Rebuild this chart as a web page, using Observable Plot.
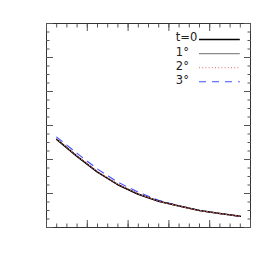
<!DOCTYPE html>
<html>
<head>
<meta charset="utf-8">
<script src="https://cdn.jsdelivr.net/npm/d3@7"></script>
<script src="https://cdn.jsdelivr.net/npm/@observablehq/plot@0.6"></script>
<style>
  html, body { margin: 0; padding: 0; background: #fff; }
  #chart { width: 273px; height: 273px; }
</style>
</head>
<body>
<div id="chart"></div>
<script>
// x positions of the samples
const xs = [0.25, 0.75, 1.25, 1.75, 2.25, 2.75, 3.25, 3.75, 4.25, 4.75];
// series values
const t0   = [2.59, 2.09, 1.63, 1.26, 0.98, 0.77, 0.63, 0.50, 0.41, 0.33];
const deg1 = [2.60, 2.09, 1.63, 1.26, 0.98, 0.77, 0.63, 0.50, 0.41, 0.33];
const deg2 = [2.60, 2.10, 1.64, 1.27, 0.99, 0.77, 0.63, 0.50, 0.41, 0.33];
const deg3 = [2.66, 2.18, 1.72, 1.33, 1.04, 0.80, 0.64, 0.50, 0.41, 0.32];
// legend labels
const labels = ["t=0", "1°", "2°", "3°"];

const seriesValues = [t0, deg1, deg2, deg3];
const styles = [
  {stroke: "#000000", strokeWidth: 1.6, strokeDasharray: null},
  {stroke: "#8a8a8a", strokeWidth: 1.2, strokeDasharray: null},
  {stroke: "#e06a6a", strokeWidth: 1, strokeDasharray: "1,2.2"},
  {stroke: "#3f50ff", strokeWidth: 1.1, strokeDasharray: "7,6"}
];
// drawing order: blue under, then grey, black, red dotted on top
const order = [3, 1, 0, 2];

const xDomain = [0, 5];
const yDomain = [0, 6];
const xMinor = d3.range(0, 5.001, 0.25);
const xMajor = d3.range(0, 5.001, 1);
const yMinor = d3.range(0, 6.001, 0.25);
const yMajor = d3.range(0, 6.001, 1);

const marks = [Plot.frame({stroke: "#333", strokeWidth: 1})];
const blank = () => "";
// inward ticks on all four sides
for (const anchor of ["bottom", "top"]) {
  marks.push(Plot.axisX({anchor, ticks: xMinor, tickSize: -3.5, tickFormat: blank, label: null, stroke: "#555"}));
  marks.push(Plot.axisX({anchor, ticks: xMajor, tickSize: -7, tickFormat: blank, label: null, stroke: "#555"}));
}
for (const anchor of ["left", "right"]) {
  marks.push(Plot.axisY({anchor, ticks: yMinor, tickSize: -3.5, tickFormat: blank, label: null, stroke: "#555"}));
  marks.push(Plot.axisY({anchor, ticks: yMajor, tickSize: -7, tickFormat: blank, label: null, stroke: "#555"}));
}

for (const i of order) {
  const data = xs.map((x, j) => ({x, y: seriesValues[i][j]}));
  const s = styles[i];
  marks.push(Plot.line(data, {x: "x", y: "y", stroke: s.stroke, strokeWidth: s.strokeWidth,
    strokeDasharray: s.strokeDasharray, curve: "linear"}));
}

// legend (in data units)
const legY0 = 5.53, legStep = 0.415;
const legX1 = 3.75, legX2 = 4.75, legTextX = 3.17;
labels.forEach((lab, i) => {
  const s = styles[i];
  const y = legY0 - i * legStep;
  marks.push(Plot.ruleY([y], {x1: legX1, x2: legX2, stroke: s.stroke,
    strokeWidth: s.strokeWidth, strokeDasharray: s.strokeDasharray}));
  marks.push(Plot.text([lab], {x: legTextX, y, text: d => d, textAnchor: "start",
    lineAnchor: "bottom", dy: 2, fontSize: 11.5, fill: "#222"}));
});

const chart = Plot.plot({
  width: 273,
  height: 273,
  marginLeft: 46,
  marginRight: 23,
  marginTop: 23,
  marginBottom: 46,
  style: {fontFamily: "DejaVu Sans", background: "#fff"},
  x: {domain: xDomain, axis: null, label: null},
  y: {domain: yDomain, axis: null, label: null},
  marks
});
document.getElementById("chart").append(chart);
</script>
</body>
</html>
